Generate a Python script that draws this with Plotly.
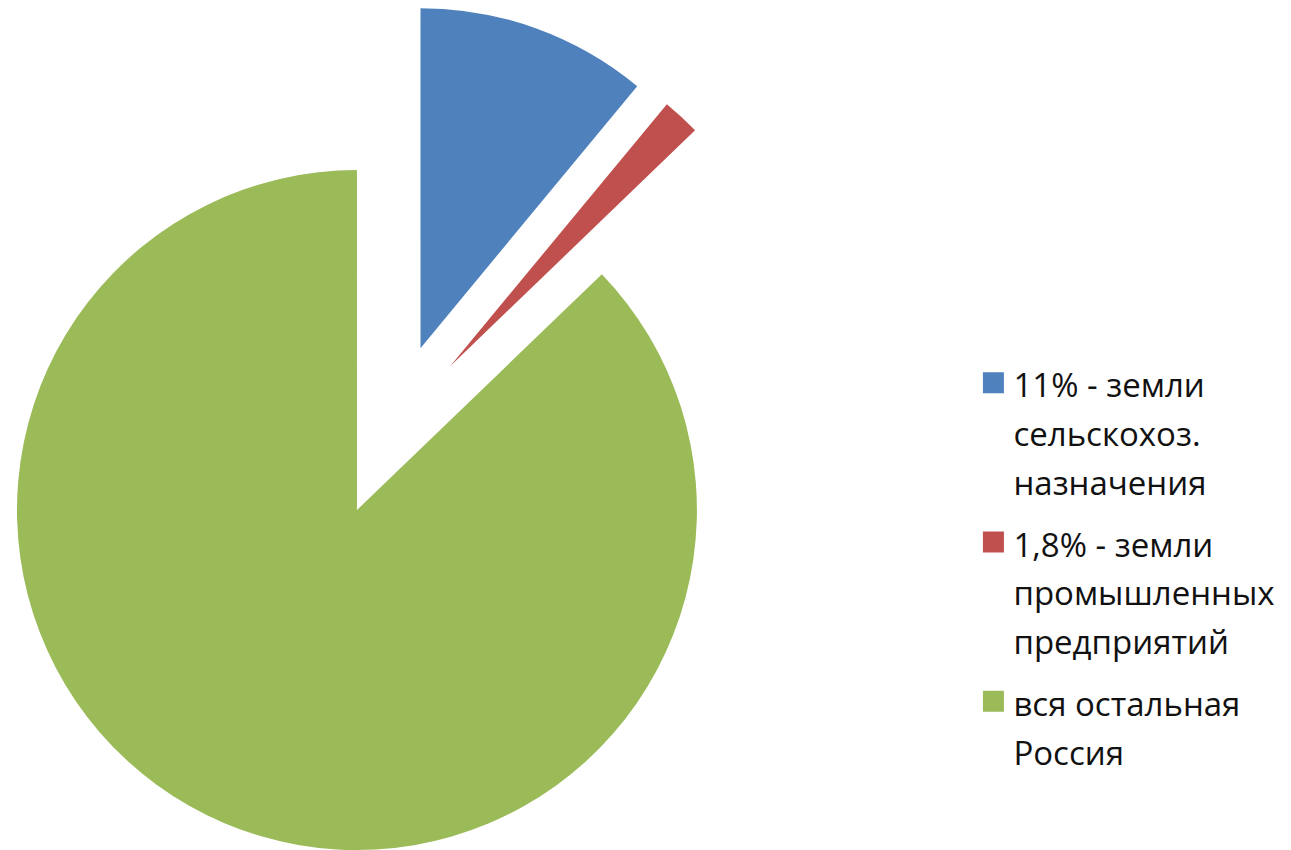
import math
import plotly.graph_objects as go

# ---- data ----
categories = [
    "11% - земли сельскохоз. назначения",
    "1,8% - земли промышленных предприятий",
    "вся остальная Россия",
]
legend_lines = [
    ["11% - земли", "сельскохоз.", "назначения"],
    ["1,8% - земли", "промышленных", "предприятий"],
    ["вся остальная", "Россия"],
]
values = [11.0, 1.8, 87.2]
colors = ["#4F81BD", "#C0504D", "#9BBB59"]

# ---- layout constants (pixels) ----
W, H = 1291, 850
R = 340            # pie radius
CX, CY = 391, 430  # pie centre before explosion
EXPLODE = 87       # explosion distance of each slice

fig = go.Figure()
total = sum(values)
start = 0.0
for i, v in enumerate(values):
    frac = v / total
    mid = (start + frac / 2) * 2 * math.pi
    start += frac
    ax = CX + EXPLODE * math.sin(mid)
    ay = CY - EXPLODE * math.cos(mid)
    x0 = max(0.0, (ax - R) / W)
    x1 = min(1.0, (ax + R) / W)
    y0 = max(0.0, (H - ay - R) / H)
    y1 = min(1.0, (H - ay + R) / H)
    slice_colors = [c if j == i else "rgba(0,0,0,0)" for j, c in enumerate(colors)]
    fig.add_trace(go.Pie(
        labels=categories, values=values, sort=False,
        direction="clockwise", rotation=0,
        marker=dict(colors=slice_colors, line=dict(width=0)),
        textinfo="none", showlegend=False,
        domain=dict(x=[x0, x1], y=[y0, y1]),
    ))

for i in range(len(categories)):
    name = "<br>".join(f"<span style='font-size:33px'>{t}</span>" for t in legend_lines[i])
    fig.add_trace(go.Scatter(
        x=[None], y=[None], mode="markers", name=name,
        legendgroup=f"g{i}", showlegend=True,
        marker=dict(symbol="square", size=16, color=colors[i],
                    line=dict(color=colors[i], width=5)),
    ))

fig.update_xaxes(visible=False)
fig.update_yaxes(visible=False)
fig.update_layout(
    width=W, height=H, autosize=False,
    margin=dict(l=0, r=0, t=0, b=0, pad=0),
    paper_bgcolor="white", plot_bgcolor="white",
    font=dict(family="Open Sans", color="#111111"),
    legend=dict(
        x=0.754, y=0.586, xanchor="left", yanchor="top",
        valign="top", tracegroupgap=10,
        font=dict(family="Open Sans", size=37.5, color="#111111"),
        bgcolor="rgba(0,0,0,0)",
    ),
)
fig.write_html("out.html")
